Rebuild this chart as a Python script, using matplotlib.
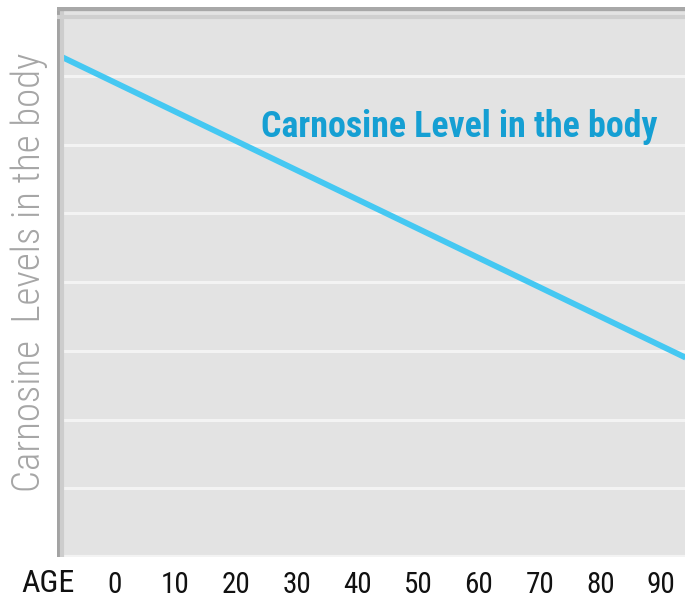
import matplotlib
matplotlib.use("Agg")
import matplotlib.pyplot as plt

# ---- data ----
age_ticks = [0, 10, 20, 30, 40, 50, 60, 70, 80, 90]
tick_labels = ["0", "10", "20", "30", "40", "50", "60", "70", "80", "90"]
line_age = [-9.0, 94.0]
line_level = [7.29, 2.90]
grid_levels = [1, 2, 3, 4, 5, 6, 7]

COND = "Roboto Condensed"

fig = plt.figure(figsize=(6.85, 5.98), dpi=100)
ax = fig.add_axes([57/685, 41/598, 1 - 57/685, 550/598])
ax.set_facecolor("#e3e3e3")
ax.set_xlim(-9.4, 93.9)
ax.set_ylim(0, 8.0)

for g in grid_levels:
    ax.axhline(g, color="#f3f3f3", lw=2.2, zorder=1)
ax.axhline(0, color="#f3f3f3", lw=3, zorder=1)

ax.plot(line_age, line_level, color="#45c8f2", lw=4.2, solid_capstyle="butt", zorder=3)

ax.text(0.64, 0.782, "Carnosine Level in the body", transform=ax.transAxes,
        ha="center", va="center", color="#159fd3", fontsize=25.8,
        fontweight="bold", family=COND)

for s in ax.spines.values():
    s.set_visible(False)
ax.axvline(-9.4, color="#a3a3a3", lw=4.5, zorder=4)
ax.axvline(-8.5, color="#cdcdcd", lw=3, zorder=4)
ax.axhline(8.0, color="#a8a8a8", lw=6, zorder=4)
ax.axhline(7.85, color="#cfcfcf", lw=3, zorder=4)

ax.set_xticks(age_ticks)
ax.set_xticklabels(tick_labels, fontsize=21, color="#111111", family=COND)
ax.tick_params(axis="x", length=0, pad=10)
ax.set_yticks([])

fig.text(48/685, 1 - 583/598, "AGE", ha="center", va="center", fontsize=23,
         color="#111111", family=COND)
fig.text(29/685, 1 - 272/598, "Carnosine  Levels in the body", rotation=90,
         ha="center", va="center", fontsize=28, color="#a6a6a6", family=COND,
         fontweight="light")

fig.savefig("out.png", dpi=100)
